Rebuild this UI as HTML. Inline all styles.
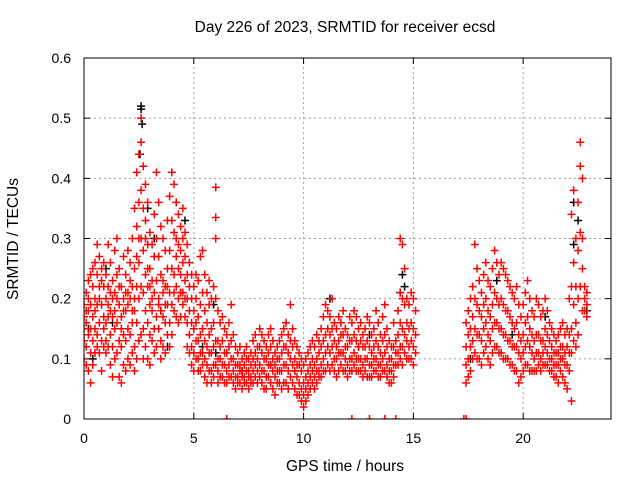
<!DOCTYPE html>
<html><head><meta charset="utf-8"><style>
body{margin:0;background:#fff;}
svg{display:block;font-family:"Liberation Sans",sans-serif;font-size:14px;}
</style></head><body>
<svg id="chart" width="640" height="480" viewBox="0 0 640 480" xmlns="http://www.w3.org/2000/svg">
<rect width="640" height="480" fill="#fff"/>
<text x="345" y="32" text-anchor="middle" font-size="15.5">Day 226 of 2023, SRMTID for receiver ecsd</text>
<text x="345" y="471" text-anchor="middle" font-size="15.5">GPS time / hours</text>
<text x="18" y="239" text-anchor="middle" font-size="15.5" transform="rotate(-90 18 239)">SRMTID / TECUs</text>
<g id="grid"></g><g id="axes"></g>
<defs><clipPath id="pc"><rect x="84" y="57" width="527" height="362.5"/></clipPath></defs>
<g id="marks" clip-path="url(#pc)"></g>
<rect x="84" y="58" width="527" height="361" fill="none" stroke="#000" stroke-width="1"/>
</svg>
<script>
const xTicks=[0,5,10,15,20];
const yTicks=[0,0.1,0.2,0.3,0.4,0.5,0.6];
const yTickLabels=["0","0.1","0.2","0.3","0.4","0.5","0.6"];
const blackPoints=[[2.6,.52],[2.6,.515],[2.65,.49],[2.55,.44],[2.9,.35],[3.2,.3],[3.5,.18],[4.6,.33],[4.4,.21],[1.0,.25],[0.4,.1],[1.3,.16],[5.4,.12],[6.0,.11],[8.5,.09],[11.2,.2],[12.5,.12],[13.0,.14],[14.5,.24],[14.4,.21],[14.6,.22],[17.6,.1],[18.8,.23],[19.5,.14],[20.3,.12],[21.0,.17],[22.3,.36],[22.5,.33],[22.9,.18],[22.3,.29],[0.2,.15],[3.8,.12],[5.9,.19],[7.2,.08],[9.6,.08],[10.6,.1]];
const redRows=[
[0.0,.17,.13,.10,.19,.15],[0.1,.21,.16,.12,.09,.18],[0.2,.23,.18,.14,.08,.2],[0.3,.19,.15,.24,.11,.06],[0.4,.22,.17,.13,.09,.25],[0.5,.26,.2,.15,.11,.18],[0.6,.24,.19,.14,.29,.12],[0.7,.27,.22,.16,.11,.2],[0.8,.25,.19,.13,.08,.23],[0.9,.22,.17,.12,.26,.15],
[1.0,.2,.16,.11,.24,.13],[1.1,.29,.22,.17,.12,.19],[1.2,.26,.18,.14,.09,.21],[1.3,.23,.17,.12,.07,.2],[1.4,.28,.21,.15,.1,.18],[1.5,.3,.24,.16,.11,.2],[1.6,.25,.19,.13,.07,.22],[1.7,.22,.17,.12,.06,.15],[1.8,.27,.2,.14,.09,.18],[1.9,.24,.18,.13,.08,.21],
[2.0,.28,.21,.15,.1,.19],[2.1,.26,.2,.14,.09,.23],[2.2,.3,.22,.16,.11,.18],[2.3,.35,.25,.18,.12,.08,.2],[2.4,.41,.32,.22,.16,.1,.27],[2.5,.44,.36,.26,.2,.13,.3],[2.6,.5,.46,.38,.3,.22,.14],[2.7,.42,.35,.28,.21,.15,.1],[2.8,.39,.3,.24,.18,.12,.33],[2.9,.36,.29,.22,.16,.1,.25],
[3.0,.31,.25,.19,.14,.09,.22],[3.1,.29,.23,.18,.13,.2],[3.2,.34,.27,.21,.15,.11],[3.3,.41,.3,.23,.17,.12],[3.4,.36,.27,.2,.15,.19],[3.5,.32,.24,.18,.13,.1],[3.6,.3,.23,.17,.12,.21],[3.7,.28,.22,.16,.11,.19],[3.8,.33,.25,.19,.14,.22],[3.9,.37,.28,.21,.16,.12],
[4.0,.41,.33,.25,.19,.14],[4.1,.39,.31,.24,.18,.21],[4.2,.36,.3,.27,.22,.17],[4.3,.34,.29,.25,.2,.16],[4.4,.32,.28,.24,.21,.17],[4.5,.35,.3,.26,.21,.19],[4.6,.31,.27,.23,.2,.17],[4.7,.29,.24,.2,.16,.12],[4.8,.26,.22,.18,.14,.11],[4.9,.24,.2,.16,.12,.09],
[5.0,.22,.18,.15,.11,.08],[5.1,.2,.16,.13,.1,.24],[5.2,.23,.17,.13,.1,.08],[5.3,.27,.19,.14,.11,.08],[5.4,.28,.21,.15,.11,.09],[5.5,.24,.18,.13,.1,.07],[5.6,.21,.16,.12,.09,.06],[5.7,.19,.14,.11,.08,.23],[5.8,.2,.15,.11,.08,.06],[5.9,.22,.16,.12,.09,.07],
[6.0,.385,.335,.3,.2,.13,.09],[6.1,.18,.13,.1,.08,.06],[6.2,.16,.12,.1,.07],[6.3,.17,.13,.09,.07],[6.4,.15,.11,.09,.06],[6.5,.14,.11,.08,.06,0],[6.6,.16,.12,.09,.07],[6.7,.19,.13,.1,.07],[6.8,.14,.1,.08,.06],[6.9,.12,.09,.07,.05],
[7.0,.11,.09,.07,.06],[7.1,.12,.09,.08,.06],[7.2,.1,.08,.07,.05],[7.3,.11,.09,.07,.06],[7.4,.12,.1,.08,.06],[7.5,.1,.08,.07,.05],[7.6,.11,.09,.07,.06],[7.7,.13,.1,.08,.06],[7.8,.14,.11,.09,.07],[7.9,.12,.1,.08,.06],
[8.0,.15,.12,.09,.07],[8.1,.14,.11,.08,.06],[8.2,.13,.1,.08,.05],[8.3,.12,.1,.07,.05],[8.4,.14,.11,.09,.07],[8.5,.15,.12,.09,.06],[8.6,.13,.1,.08,.05],[8.7,.11,.09,.07,.04],[8.8,.12,.1,.08,.06],[8.9,.13,.1,.08,.06],
[9.0,.14,.11,.08,.05],[9.1,.15,.12,.09,.06],[9.2,.16,.12,.09,.06],[9.3,.14,.11,.08,.05],[9.4,.19,.13,.1,.07],[9.5,.15,.12,.09,.06],[9.6,.13,.1,.08,.05],[9.7,.12,.09,.07,.04],[9.8,.11,.09,.06,.04],[9.9,.1,.08,.05,.03],
[10.0,.09,.06,.04,.02],[10.1,.1,.07,.05,.03],[10.2,.11,.08,.06,.04],[10.3,.12,.09,.07,.05],[10.4,.13,.1,.08,.06],[10.5,.12,.09,.07,.05],[10.6,.14,.1,.08,.06],[10.7,.13,.11,.08,.07],[10.8,.15,.12,.09,.07],[10.9,.17,.13,.1,.08],
[11.0,.19,.14,.11,.08],[11.1,.18,.15,.12,.09],[11.2,.17,.14,.11,.08],[11.3,.2,.15,.12,.09],[11.4,.16,.13,.1,.08],[11.5,.15,.12,.1,.07],[11.6,.17,.13,.11,.08],[11.7,.16,.14,.11,.09],[11.8,.18,.14,.11,.08],[11.9,.15,.12,.1,.08],
[12.0,.14,.12,.09,.07],[12.1,.17,.13,.1,.08],[12.2,.16,.13,.1,.08,0],[12.3,.18,.14,.11,.09],[12.4,.17,.13,.1,.08],[12.5,.15,.12,.1,.08],[12.6,.16,.13,.1,.08],[12.7,.14,.12,.09,.07],[12.8,.15,.12,.1,.08],[12.9,.17,.13,.1,.07],
[13.0,.16,.12,.09,.07,0],[13.1,.14,.11,.09,.07],[13.2,.15,.12,.1,.08],[13.3,.18,.13,.1,.08],[13.4,.16,.12,.09,.07],[13.5,.14,.11,.09,.07],[13.6,.17,.13,.1,.08],[13.7,.19,.14,.11,.08,0],[13.8,.15,.12,.09,.07],[13.9,.13,.1,.08,.06],
[14.0,.12,.1,.08,.06],[14.1,.16,.12,.09,.07],[14.2,.13,.11,.09,0],[14.3,.18,.14,.11,.09],[14.4,.3,.21,.16,.12,.1],[14.5,.29,.2,.15,.12,.09],[14.6,.25,.19,.14,.11],[14.7,.2,.16,.13,.1],[14.8,.19,.15,.12,.1],[14.9,.21,.16,.13,.1],
[15.0,.2,.15,.12,.09],[15.1,.18,.14,.11],[17.3,0],
[17.4,.16,.12,.09,.06,0],[17.5,.18,.14,.1,.07],[17.6,.2,.15,.12,.08],[17.7,.22,.17,.13,.1],[17.8,.29,.2,.15,.11],[17.9,.25,.19,.14,.1],
[18.0,.23,.18,.14,.1],[18.1,.21,.17,.13,.09],[18.2,.24,.19,.15,.11],[18.3,.26,.2,.16,.12],[18.4,.23,.18,.14,.1],[18.5,.22,.17,.13,.09],[18.6,.25,.19,.15,.11],[18.7,.28,.21,.16,.12],[18.8,.26,.2,.16,.12],[18.9,.24,.19,.15,.11],
[19.0,.26,.2,.15,.11],[19.1,.25,.19,.14,.1],[19.2,.24,.18,.14,.1],[19.3,.23,.18,.13,.1],[19.4,.22,.17,.13,.09],[19.5,.21,.16,.12,.09],[19.6,.2,.15,.12,.08],[19.7,.22,.16,.12,.08],[19.8,.19,.14,.11,.06],[19.9,.17,.13,.1,.07],
[20.0,.19,.14,.11,.08],[20.1,.21,.16,.12,.09],[20.2,.23,.17,.13,.09],[20.3,.2,.15,.12,.08],[20.4,.18,.14,.11,.08],[20.5,.17,.13,.1,.08],[20.6,.2,.14,.11,.08],[20.7,.19,.14,.11,.09],[20.8,.17,.13,.1,.08],[20.9,.18,.13,.11,.09],
[21.0,.2,.15,.12,.09],[21.1,.18,.14,.11,.09],[21.2,.16,.13,.1,.08],[21.3,.15,.12,.1,.08],[21.4,.14,.11,.09,.07],[21.5,.13,.11,.09,.07],[21.6,.14,.11,.09,.06],[21.7,.15,.12,.1,.08],[21.8,.16,.12,.1,.07],[21.9,.14,.11,.09,.06],
[22.0,.15,.12,.09,.05],[22.1,.2,.14,.11,.08],[22.2,.34,.22,.15,.11,.03],[22.3,.38,.26,.19,.13],[22.4,.3,.22,.16,.12],[22.5,.36,.28,.2,.14],[22.6,.46,.42,.31,.22],[22.7,.4,.3,.25,.18],[22.8,.22,.2,.18],[22.9,.21,.19,.17]
];
const X0=84,X1=611,Y0=419,Y1=58,XMAX=24,YMAX=0.6;
function xs(t){return X0+(X1-X0)*t/XMAX;}
function ys(v){return Y0-(Y0-Y1)*v/YMAX;}
const NS="http://www.w3.org/2000/svg";
const grid=document.getElementById('grid'),axes=document.getElementById('axes'),marks=document.getElementById('marks');
function mk(tag,attrs,parent){const e=document.createElementNS(NS,tag);for(const k in attrs)e.setAttribute(k,attrs[k]);parent.appendChild(e);return e;}
yTicks.forEach((v,i)=>{
  const y=ys(v);
  if(i>0&&i<yTicks.length-1){const g=mk('line',{x1:X0,x2:X1,y1:y,y2:y,stroke:'#a0a0a0','stroke-dasharray':'2,3'},grid);
  
  }
  const t1=mk('line',{x1:X0,x2:X0+6,y1:y,y2:y,stroke:'#000'},axes);
  
  
  const t2=mk('line',{x1:X1,x2:X1-6,y1:y,y2:y,stroke:'#000'},axes);
  
  
  const l=mk('text',{x:X0-13,y:y+5,'text-anchor':'end'},axes);l.textContent=yTickLabels[i];
  
  
});
xTicks.forEach(t=>{
  const x=xs(t);
  if(t>0){const g=mk('line',{x1:x,x2:x,y1:Y0,y2:Y1,stroke:'#a0a0a0','stroke-dasharray':'2,3'},grid);
  
  }
  const t1=mk('line',{x1:x,x2:x,y1:Y0,y2:Y0-6,stroke:'#000'},axes);
  
  
  const t2=mk('line',{x1:x,x2:x,y1:Y1,y2:Y1+6,stroke:'#000'},axes);
  
  
  const l=mk('text',{x:x,y:Y0+24,'text-anchor':'middle'},axes);l.textContent=String(t);
  
  
});
function plus(t,v,col){
  const x=xs(t),y=ys(v);
  return mk('path',{d:`M${x-4} ${y}H${x+4}M${x} ${y-4}V${y+4}`,stroke:col,'stroke-width':1.5,fill:'none'},marks);
}
blackPoints.forEach(p=>{
  const m=plus(p[0],p[1],'#000');
  
  
});
redRows.forEach(r=>{
  for(let i=1;i<r.length;i++){
    const m=plus(r[0],r[i],'#ff0000');
    
    
  }
});
</script>
</body></html>
